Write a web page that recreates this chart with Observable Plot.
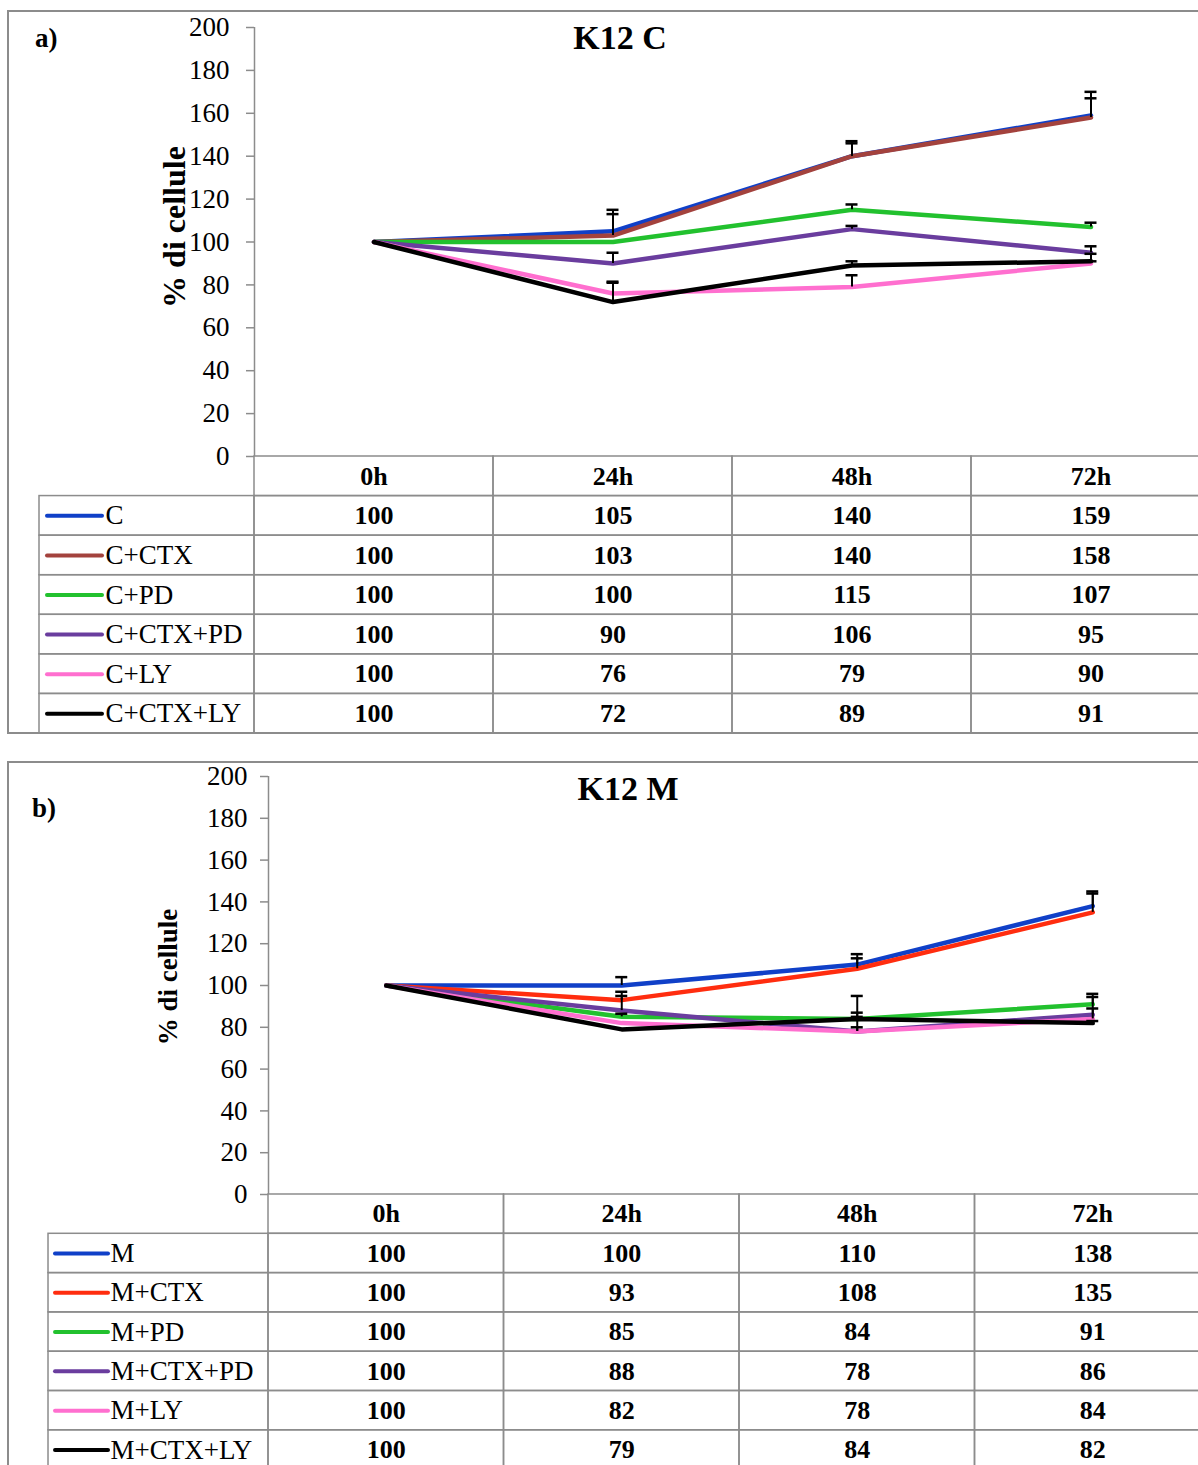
<!DOCTYPE html>
<html>
<head>
<meta charset="utf-8">
<script src="https://cdn.jsdelivr.net/npm/d3@7"></script>
<script src="https://cdn.jsdelivr.net/npm/@observablehq/plot@0.6"></script>
<style>
  html, body { margin: 0; padding: 0; background: #fff; }
  #page { position: relative; width: 1198px; height: 1465px; overflow: hidden;
          font-family: "Liberation Serif", "Times New Roman", serif; color: #000; }
  .box { position: absolute; border: 2px solid #8c8c8c; box-sizing: border-box; }
  .layer { position: absolute; left: 0; }
  .tag { position: absolute; font-weight: bold; font-size: 27px; line-height: 1; white-space: nowrap; }
  .title { position: absolute; font-weight: bold; font-size: 34px; line-height: 1; white-space: nowrap;
           transform: translateX(-50%); }
  .ylab { position: absolute; font-weight: bold; line-height: 1; white-space: nowrap;
          transform: translate(-50%, -50%) rotate(-90deg); }
</style>
</head>
<body>
<div id="page"></div>
<script>
// ---- shared axis values ----
const times = ["0h", "24h", "48h", "72h"];
const yTicks = [0, 20, 40, 60, 80, 100, 120, 140, 160, 180, 200];

// ---- panel a: K12 C ----
const seriesA = ["C", "C+CTX", "C+PD", "C+CTX+PD", "C+LY", "C+CTX+LY"];
const colorsA = ["#1040c8", "#a3423d", "#22c12e", "#6a3d9e", "#ff6fcf", "#000000"];
const a_C        = [100, 105, 140, 159];
const a_CCTX     = [100, 103, 140, 158];
const a_CPD      = [100, 100, 115, 107];
const a_CCTXPD   = [100,  90, 106,  95];
const a_CLY      = [100,  76,  79,  90];
const a_CCTXLY   = [100,  72,  89,  91];
// upper error bars (SD)
const a_C_err      = [0, 10, 7, 11];
const a_CCTX_err   = [0, 10, 6, 9];
const a_CPD_err    = [0, 0, 2.5, 2];
const a_CCTXPD_err = [0, 5, 1.5, 3];
const a_CLY_err    = [0, 5.5, 5.5, 1];
const a_CCTXLY_err = [0, 9, 2, 3.5];

// ---- panel b: K12 M ----
const seriesB = ["M", "M+CTX", "M+PD", "M+CTX+PD", "M+LY", "M+CTX+LY"];
const colorsB = ["#1040c8", "#ff2d0f", "#22c12e", "#6a3d9e", "#ff6fcf", "#000000"];
const b_M        = [100, 100, 110, 138];
const b_MCTX     = [100,  93, 108, 135];
const b_MPD      = [100,  85,  84,  91];
const b_MCTXPD   = [100,  88,  78,  86];
const b_MLY      = [100,  82,  78,  84];
const b_MCTXLY   = [100,  79,  84,  82];
// upper error bars (SD)
const b_M_err      = [0, 4, 5, 7];
const b_MCTX_err   = [0, 4, 5, 9];
const b_MPD_err    = [0, 1.5, 11, 5];
const b_MCTXPD_err = [0, 7, 9, 8.5];
const b_MLY_err    = [0, 0, 2, 5];
const b_MCTXLY_err = [0, 0, 1, 1];

const GRID = "#8c8c8c";
const svgStyle = {
  background: "transparent", maxWidth: "none", overflow: "visible",
  fontFamily: "'Liberation Serif', 'Times New Roman', serif", color: "#000"
};

function addText(cls, text, styles) {
  const el = document.createElement("div");
  el.className = cls;
  el.textContent = text;
  Object.assign(el.style, styles);
  document.getElementById("page").appendChild(el);
}

function drawPanel(p) {
  const page = document.getElementById("page");
  const n = p.times.length;
  const colW = (p.right - p.axisX) / n;              // pixel width of one time column
  const legendLeft = -0.5 - (p.axisX - p.tableLeft) / colW; // left edge of legend column, in column units
  const toUnits = px => legendLeft + (px - p.tableLeft) / colW;

  const points = p.series.flatMap((s, k) =>
    p.values[k].map((v, i) => ({series: s, i, v, e: p.errors[k][i]})));
  const bars = points.filter(d => d.e > 0);
  const cap = 6 / colW;

  // outer frame of the panel
  const box = document.createElement("div");
  box.className = "box";
  Object.assign(box.style, {
    left: p.box[0] + "px", top: p.box[1] + "px",
    width: (p.box[2] - p.box[0]) + "px", height: (p.box[3] - p.box[1]) + "px"
  });
  page.appendChild(box);

  // line chart
  const padTop = 20, padBottom = 14;
  const chart = Plot.plot({
    width: p.right + 10,
    height: p.y0 - p.y200 + padTop + padBottom,
    marginLeft: p.axisX, marginRight: 10, marginTop: padTop, marginBottom: padBottom,
    x: {domain: [-0.5, n - 0.5], axis: null},
    y: {domain: [0, 200], axis: null},
    color: {domain: p.series, range: p.colors},
    style: svgStyle,
    marks: [
      Plot.axisY({ticks: yTicks, tickSize: 8, tickPadding: p.tickPad, fontSize: 27,
                  stroke: GRID, strokeWidth: 1.5, fill: "#000", label: null}),
      Plot.ruleX([-0.5], {stroke: GRID, strokeWidth: 1.5}),
      Plot.line(points, {x: "i", y: "v", z: "series", stroke: "series",
                         strokeWidth: 4.5, strokeLinejoin: "round"}),
      Plot.ruleX(bars, {x: "i", y1: "v", y2: d => d.v + d.e, stroke: "#000", strokeWidth: 2}),
      Plot.ruleY(bars, {y: d => d.v + d.e, x1: d => d.i - cap, x2: d => d.i + cap,
                        stroke: "#000", strokeWidth: 2.5})
    ]
  });
  const cw = document.createElement("div");
  cw.className = "layer";
  cw.style.top = (p.y200 - padTop) + "px";
  cw.appendChild(chart);
  page.appendChild(cw);

  // data table with legend column
  const table = Plot.plot({
    width: p.right + 10,
    height: p.rowH * (p.series.length + 1),
    marginLeft: p.tableLeft, marginRight: 10, marginTop: 0, marginBottom: 0,
    x: {domain: [legendLeft, n - 0.5], axis: null},
    y: {domain: ["header", ...p.series], padding: 0, round: false, axis: null},
    color: {domain: p.series, range: p.colors},
    style: svgStyle,
    marks: [
      Plot.barX(p.times, {x1: (d, i) => i - 0.5, x2: (d, i) => i + 0.5, y: () => "header",
                          fill: "none", stroke: GRID, strokeWidth: 1.5}),
      Plot.barX(points, {x1: d => d.i - 0.5, x2: d => d.i + 0.5, y: "series",
                         fill: "none", stroke: GRID, strokeWidth: 1.5}),
      Plot.barX(p.series, {x1: () => legendLeft, x2: () => -0.5, y: d => d,
                           fill: "none", stroke: GRID, strokeWidth: 1.5}),
      Plot.ruleY(p.series, {y: d => d, x1: () => toUnits(p.swatch[0]), x2: () => toUnits(p.swatch[1]),
                            stroke: d => d, strokeWidth: 4, strokeLinecap: "round"}),
      Plot.text(p.series, {x: () => toUnits(p.labelX), y: d => d, text: d => d,
                           textAnchor: "start", fontSize: 27}),
      Plot.text(p.times, {x: (d, i) => i, y: () => "header", text: d => d,
                          fontSize: 26, fontWeight: "bold"}),
      Plot.text(points, {x: "i", y: "series", text: d => String(d.v),
                         fontSize: 26, fontWeight: "bold"})
    ]
  });
  const tw = document.createElement("div");
  tw.className = "layer";
  tw.style.top = p.y0 + "px";
  tw.appendChild(table);
  page.appendChild(tw);

  addText("tag", p.tag, {left: p.tagPos[0] + "px", top: p.tagPos[1] + "px"});
  addText("title", p.title, {left: p.titlePos[0] + "px", top: p.titlePos[1] + "px"});
  addText("ylab", "% di cellule", {left: p.ylabPos[0] + "px", top: p.ylabPos[1] + "px",
                                   fontSize: p.ylabSize + "px"});
}

drawPanel({
  tag: "a)", title: "K12 C",
  times, series: seriesA, colors: colorsA,
  values: [a_C, a_CCTX, a_CPD, a_CCTXPD, a_CLY, a_CCTXLY],
  errors: [a_C_err, a_CCTX_err, a_CPD_err, a_CCTXPD_err, a_CLY_err, a_CCTXLY_err],
  box: [7, 10, 1230, 734],
  axisX: 254, right: 1210, y200: 27, y0: 456, tickPad: 17,
  tableLeft: 39, rowH: 277 / 7, swatch: [47, 102], labelX: 105,
  tagPos: [35, 25], titlePos: [620, 21], ylabPos: [174, 227], ylabSize: 32
});

drawPanel({
  tag: "b)", title: "K12 M",
  times, series: seriesB, colors: colorsB,
  values: [b_M, b_MCTX, b_MPD, b_MCTXPD, b_MLY, b_MCTXLY],
  errors: [b_M_err, b_MCTX_err, b_MPD_err, b_MCTXPD_err, b_MLY_err, b_MCTXLY_err],
  box: [7, 761, 1230, 1500],
  axisX: 268, right: 1210, y200: 776, y0: 1194, tickPad: 13,
  tableLeft: 48, rowH: 39.3, swatch: [55, 108], labelX: 110,
  tagPos: [32, 795], titlePos: [628, 772], ylabPos: [168, 977], ylabSize: 27
});
</script>
</body>
</html>
